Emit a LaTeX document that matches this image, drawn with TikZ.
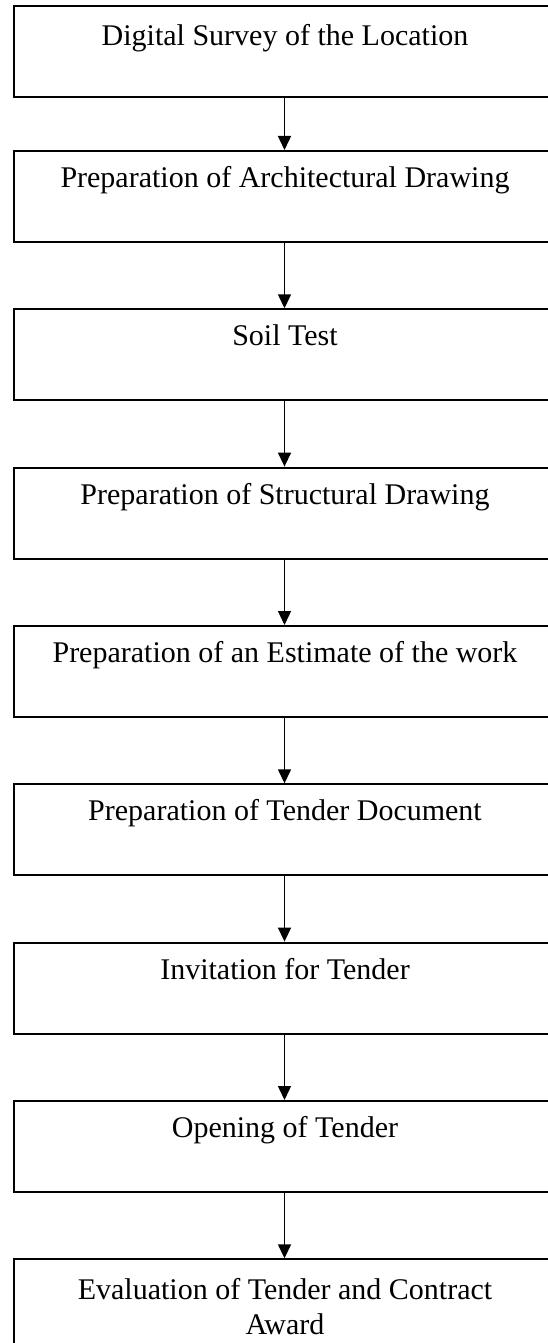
\documentclass[tikz,border=0pt]{standalone}
\usepackage{fontspec}
\setmainfont{Liberation Serif}
\usetikzlibrary{arrows.meta}
\begin{document}
\begin{tikzpicture}[x=1pt,y=-1pt,
  box/.style={draw=black, line width=2pt, rectangle, minimum width=545pt, minimum height=91pt, inner sep=0pt, anchor=north west},
  lbl/.style={font=\fontsize{30}{34.5}\selectfont, anchor=base, inner sep=0pt},
  arr/.style={draw=black, line width=1.4pt, -{Triangle[length=14pt,width=13pt]}}]
\useasboundingbox (0,0) rectangle (548,1343);
\clip (0,0) rectangle (548,1343);
\fill[white] (0,0) rectangle (548,1343);
\coordinate (ax) at (284.5,0);
\node[box] (b1) at (12.7,5) {};
\node[box] (b2) at (12.7,150) {};
\node[box] (b3) at (12.7,308.3) {};
\node[box] (b4) at (12.7,466.6) {};
\node[box] (b5) at (12.7,625) {};
\node[box] (b6) at (12.7,783.3) {};
\node[box] (b7) at (12.7,941.6) {};
\node[box] (b8) at (12.7,1100) {};
\node[box] (b9) at (12.7,1258.3) {};
\node[lbl] (t1) at (285,46) {Digital Survey of the Location};
\node[lbl] (t2) at (285,187.5) {Preparation of Architectural Drawing};
\node[lbl] (t3) at (285,345.8) {Soil Test};
\node[lbl] (t4) at (285,504.1) {Preparation of Structural Drawing};
\node[lbl] (t5) at (285,662.5) {Preparation of an Estimate of the work};
\node[lbl] (t6) at (285,820.8) {Preparation of Tender Document};
\node[lbl] (t7) at (285,979.1) {Invitation for Tender};
\node[lbl] (t8) at (285,1137) {Opening of Tender};
\node[lbl, align=center] (t9) at (285,1334) {Evaluation of Tender and Contract\\Award};
\foreach \a/\b in {b1/b2,b2/b3,b3/b4,b4/b5,b5/b6,b6/b7,b7/b8,b8/b9}
  \draw[arr] (\a.south -| ax) -- (\b.north -| ax);
\end{tikzpicture}
\end{document}
